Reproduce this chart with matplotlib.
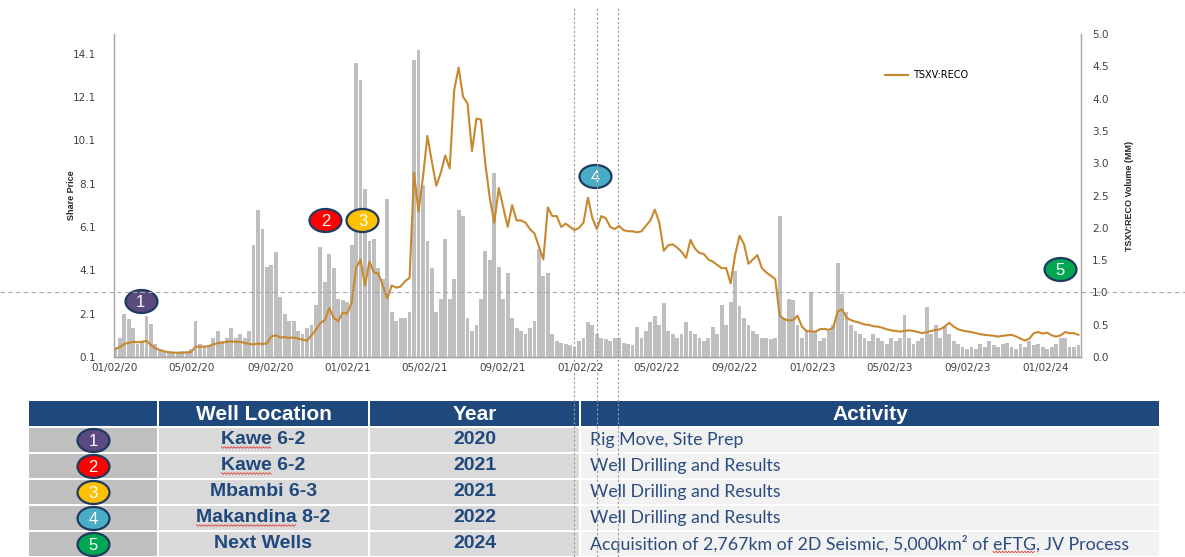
import numpy as np
import pandas as pd
import matplotlib
matplotlib.use('Agg')
import matplotlib.pyplot as plt
import matplotlib.dates as mdates
from matplotlib.patches import Rectangle
from matplotlib.lines import Line2D
from matplotlib.path import Path
from matplotlib.transforms import Affine2D, blended_transform_factory

# weekly share price (left axis) and volume in MM (right axis)
price = [
    0.47, 0.55, 0.70, 0.75, 0.80, 0.78, 0.80, 0.85, 0.65, 0.50,
    0.42, 0.36, 0.32, 0.30, 0.30, 0.29, 0.31, 0.33, 0.58, 0.57,
    0.58, 0.60, 0.68, 0.74, 0.76, 0.80, 0.82, 0.80, 0.80, 0.75,
    0.70, 0.68, 0.72, 0.70, 0.72, 1.05, 1.10, 1.00, 1.02, 0.98,
    1.00, 0.95, 0.90, 0.85, 1.10, 1.35, 1.67, 1.80, 2.36, 1.90,
    1.75, 2.15, 2.10, 2.60, 4.20, 4.60, 3.40, 4.50, 4.00, 3.95,
    3.40, 2.80, 3.40, 3.30, 3.35, 3.60, 3.75, 8.60, 6.80, 8.40,
    10.3, 9.10, 8.00, 8.60, 9.40, 8.80, 12.4, 13.45, 12.1, 11.8,
    9.60, 11.1, 11.05, 9.00, 7.40, 6.30, 7.90, 7.00, 6.10, 7.10,
    6.40, 6.40, 6.30, 6.00, 5.80, 5.20, 4.60, 7.00, 6.60, 6.60,
    6.10, 6.25, 6.10, 5.95, 6.06, 6.30, 7.45, 6.50, 6.00, 6.60,
    6.50, 6.10, 6.00, 6.15, 5.95, 5.90, 5.90, 5.85, 5.90, 6.15,
    6.40, 6.90, 6.30, 5.00, 5.25, 5.30, 5.15, 4.95, 4.67, 5.50,
    5.10, 4.90, 4.85, 4.60, 4.50, 4.35, 4.20, 4.20, 3.50, 4.80,
    5.70, 5.30, 4.40, 4.60, 4.80, 4.20, 4.00, 3.85, 3.70, 2.00,
    1.85, 1.78, 1.80, 2.00, 1.50, 1.30, 1.28, 1.27, 1.38, 1.40,
    1.35, 1.45, 2.20, 2.30, 1.90, 1.80, 1.73, 1.68, 1.60, 1.58,
    1.52, 1.50, 1.45, 1.38, 1.33, 1.30, 1.27, 1.30, 1.33, 1.30,
    1.25, 1.20, 1.25, 1.30, 1.35, 1.38, 1.50, 1.68, 1.50, 1.38,
    1.32, 1.28, 1.25, 1.20, 1.15, 1.12, 1.10, 1.08, 1.04, 1.08,
    1.10, 1.12, 1.05, 0.95, 0.86, 0.95, 1.20, 1.25, 1.18, 1.22,
    1.10, 1.04, 1.10, 1.25, 1.20, 1.20, 1.12]

volume = [
    0.15, 0.30, 0.66, 0.59, 0.45, 0.20, 0.25, 0.63, 0.51, 0.20,
    0.12, 0.08, 0.10, 0.07, 0.08, 0.10, 0.09, 0.12, 0.56, 0.20,
    0.15, 0.18, 0.30, 0.40, 0.25, 0.30, 0.45, 0.30, 0.35, 0.30,
    0.40, 1.74, 2.28, 1.98, 1.40, 1.42, 1.62, 0.93, 0.66, 0.55,
    0.55, 0.40, 0.35, 0.45, 0.50, 0.80, 1.70, 1.16, 1.59, 1.37,
    0.90, 0.88, 0.85, 1.74, 4.55, 4.29, 2.60, 1.80, 1.82, 1.37,
    1.20, 2.44, 0.70, 0.55, 0.60, 0.60, 0.70, 4.60, 4.75, 2.66,
    1.80, 1.37, 0.70, 0.90, 1.82, 0.90, 1.20, 2.28, 2.18, 0.60,
    0.40, 0.50, 0.90, 1.64, 1.50, 2.85, 1.40, 0.90, 1.30, 0.60,
    0.45, 0.40, 0.35, 0.45, 0.55, 1.67, 1.25, 1.30, 0.35, 0.25,
    0.22, 0.20, 0.18, 0.15, 0.25, 0.30, 0.54, 0.50, 0.35, 0.30,
    0.28, 0.25, 0.30, 0.30, 0.22, 0.20, 0.18, 0.46, 0.30, 0.40,
    0.54, 0.64, 0.50, 0.83, 0.40, 0.35, 0.30, 0.35, 0.54, 0.40,
    0.35, 0.30, 0.25, 0.30, 0.46, 0.35, 0.80, 0.50, 0.85, 1.33,
    0.79, 0.60, 0.50, 0.40, 0.35, 0.30, 0.30, 0.28, 0.30, 2.18,
    0.60, 0.90, 0.88, 0.50, 0.30, 0.40, 1.00, 0.40, 0.25, 0.30,
    0.40, 0.50, 1.45, 0.97, 0.70, 0.50, 0.40, 0.35, 0.30, 0.25,
    0.35, 0.30, 0.25, 0.20, 0.30, 0.25, 0.30, 0.65, 0.30, 0.20,
    0.25, 0.30, 0.77, 0.35, 0.50, 0.30, 0.48, 0.35, 0.25, 0.20,
    0.15, 0.12, 0.15, 0.12, 0.20, 0.15, 0.25, 0.18, 0.15, 0.20,
    0.22, 0.15, 0.12, 0.20, 0.15, 0.25, 0.18, 0.20, 0.15, 0.12,
    0.15, 0.20, 0.30, 0.30, 0.15, 0.15, 0.18]

dates = pd.date_range('2020-01-03', periods=len(price), freq='7D')

# event markers on the chart: (number, colour, date, price level)
badge_nums = ['1', '2', '3', '4', '5']
badge_colors = ['#5B4A7F', '#FF0000', '#FFC000', '#4BACC6', '#00A651']
badge_dates = ['2020-02-12', '2020-11-28', '2021-01-25', '2022-01-25', '2024-01-25']
badge_levels = [2.69, 6.43, 6.43, 8.46, 4.17]
event_lines = ['2021-12-23', '2022-01-28', '2022-03-02']

# table
headers = ['', 'Well Location', 'Year', 'Activity']
wells = ['Kawe 6-2', 'Kawe 6-2', 'Mbambi 6-3', 'Makandina 8-2', 'Next Wells']
years = ['2020', '2021', '2021', '2022', '2024']
activities = ['Rig Move, Site Prep',
              'Well Drilling and Results',
              'Well Drilling and Results',
              'Well Drilling and Results',
              'Acquisition of 2,767km of 2D Seismic, 5,000km\u00b2 of eFTG, JV Process']

W, H = 1185, 557
NAVY = '#1F497D'
ORANGE = '#C8882F'
GREY = '#A6A6A6'
ell = Path.unit_circle().transformed(Affine2D().scale(1, 0.72))


def badge(axis, x, y, num, color):
    axis.plot([x], [y], marker=ell, ms=23, mfc=color, mec='#1F3A5F', mew=1.6,
              ls='none', clip_on=False, zorder=10)
    axis.text(x, y, num, ha='center', va='center_baseline', color='white',
              fontsize=12, family='Liberation Sans', clip_on=False, zorder=11)


fig = plt.figure(figsize=(W / 100, H / 100), dpi=100)
ax = fig.add_axes([114 / W, 1 - 357 / H, 967 / W, 323 / H])
axv = ax.twinx()

axv.bar(dates, volume, width=6, color='#BFBFBF', linewidth=0)
ax.set_zorder(axv.get_zorder() + 1)
ax.patch.set_visible(False)
ax.plot(dates, price, color=ORANGE, lw=1.5, label='TSXV:RECO')

ax.set_xlim(pd.Timestamp('2020-01-01'), pd.Timestamp('2024-02-27'))
ax.set_ylim(0.1, 15.0)
axv.set_ylim(0, 5)

ticks = pd.date_range('2020-01-02', '2024-01-02', freq=pd.DateOffset(months=4))
ax.set_xticks(ticks)
ax.xaxis.set_major_formatter(mdates.DateFormatter('%m/%d/%y'))
ax.set_yticks(np.arange(0.1, 14.2, 2))
ax.yaxis.set_major_formatter('{x:.1f}')
axv.set_yticks(np.arange(0, 5.01, 0.5))
axv.yaxis.set_major_formatter('{x:.1f}')

ax.tick_params(axis='x', length=0, pad=4, labelsize=7.5, labelcolor='#404040')
ax.tick_params(axis='y', length=0, pad=13, labelsize=7.5, labelcolor='#404040')
axv.tick_params(axis='y', length=0, pad=8, labelsize=7.5, labelcolor='#404040')

for a in (ax, axv):
    a.spines['top'].set_visible(False)
    for s in ('left', 'right', 'bottom'):
        a.spines[s].set_color(GREY)
        a.spines[s].set_linewidth(1.0)
ax.spines['right'].set_visible(False)
axv.spines['left'].set_visible(False)

ax.set_ylabel('Share Price', fontsize=6.5, fontweight='bold', family='Liberation Sans',
              color='#262626')
ax.yaxis.set_label_coords(-0.039, 0.5)
axv.set_ylabel('TSXV:RECO Volume (MM)', fontsize=6.5, fontweight='bold',
               family='Liberation Sans', color='#262626')
axv.yaxis.set_label_coords(1.0455, 0.5)

ax.legend(loc='center left', bbox_to_anchor=(885 / W, 1 - 75 / H),
          bbox_transform=fig.transFigure, frameon=False, fontsize=7,
          handlelength=2.4, handletextpad=0.5, borderpad=0, borderaxespad=0)

# dashed volume = 1.0 guide across the whole figure
fig.add_artist(Line2D([0, 1], [1.0, 1.0],
                      transform=blended_transform_factory(fig.transFigure, axv.transData),
                      ls=(0, (4, 3)), color=GREY, lw=0.8))
# dotted event lines through chart and table
vtrans = blended_transform_factory(ax.transData, fig.transFigure)
for d in event_lines:
    xd = mdates.date2num(pd.Timestamp(d))
    fig.add_artist(Line2D([xd, xd], [0, 0.987], transform=vtrans,
                          ls=(0, (2, 2)), color='#9A9A9A', lw=0.8, zorder=5))

for n, c, d, lv in zip(badge_nums, badge_colors, badge_dates, badge_levels):
    badge(ax, pd.Timestamp(d), lv, n, c)

# ---- table, drawn in pixel coordinates
tab = fig.add_axes([0, 0, 1, 1])
tab.set_xlim(0, W)
tab.set_ylim(H, 0)
tab.axis('off')

col_x = [28, 158, 369, 580, 1160]
head_top, head_h, row_h = 401, 26, 26
for j in range(4):
    x0, x1 = col_x[j], col_x[j + 1]
    tab.add_patch(Rectangle((x0 + 1, head_top), x1 - x0 - 2, head_h - 1.5,
                            fc=NAVY, ec='none'))
    if headers[j]:
        tab.text((x0 + x1) / 2, head_top + head_h / 2, headers[j], ha='center',
                 va='center', color='white', fontsize=15, fontweight='bold',
                 family='Liberation Sans')

row_fill = ['#BFBFBF', '#D9D9D9', '#D9D9D9', '#F2F2F2']
well_txt, act_txt = [], []
for i in range(len(wells)):
    y0 = head_top + head_h + i * row_h
    for j in range(4):
        x0, x1 = col_x[j], col_x[j + 1]
        tab.add_patch(Rectangle((x0 + 1, y0 + 1), x1 - x0 - 2, row_h - 2,
                                fc=row_fill[j], ec='none'))
    yc = y0 + row_h / 2
    badge(tab, (col_x[0] + col_x[1]) / 2, yc, badge_nums[i], badge_colors[i])
    well_txt.append(tab.text((col_x[1] + col_x[2]) / 2, yc, wells[i], ha='center',
                             va='center', color=NAVY, fontsize=14, fontweight='bold',
                             family='Liberation Sans'))
    tab.text((col_x[2] + col_x[3]) / 2, yc, years[i], ha='center', va='center',
             color=NAVY, fontsize=14, fontweight='bold', family='Liberation Sans')
    act_txt.append(tab.text(col_x[3] + 10, yc, activities[i], ha='left', va='center',
                            color='#2B4C7E', fontsize=12.8, family='Lato'))

# spell-check squiggles under some words, as in the source slide
fig.canvas.draw()
rend = fig.canvas.get_renderer()


def squiggle(t, prefix, word):
    box = t.get_window_extent(rend)
    probe = tab.text(0, 0, prefix + word, fontproperties=t.get_fontproperties())
    pre = tab.text(0, 0, prefix, fontproperties=t.get_fontproperties())
    x1 = box.x0 + probe.get_window_extent(rend).width
    x0 = box.x0 + (pre.get_window_extent(rend).width if prefix else 0)
    probe.remove()
    pre.remove()
    base = H - box.y0 - 1
    xs = np.arange(x0, x1, 1.6)
    ys = base + np.where(np.arange(len(xs)) % 2 == 0, -0.8, 0.8)
    tab.plot(xs, ys, color='#E0403A', lw=0.6)


squiggle(well_txt[0], '', 'Kawe')
squiggle(well_txt[1], '', 'Kawe')
squiggle(well_txt[3], '', 'Makandina')
squiggle(act_txt[4], 'Acquisition of 2,767km of 2D Seismic, 5,000km\u00b2 of ', 'eFTG')

fig.savefig('out.png', dpi=100)
